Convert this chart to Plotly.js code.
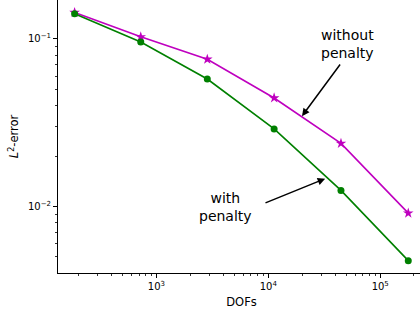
<!DOCTYPE html>
<html>
<head>
<meta charset="utf-8">
<script src="https://cdn.plot.ly/plotly-3.0.1.min.js"></script>
<style>
html, body { margin: 0; padding: 0; overflow: hidden; width: 420px; height: 315px; background: #fff; }
#chart { width: 425px; height: 315px; }
</style>
</head>
<body>
<div id="chart"></div>
<script>
// Data
const dofs = [186, 725, 2850, 11270, 44600, 178000];
const errWithout = [0.1437, 0.1028, 0.0756, 0.0444, 0.0238, 0.00912];
const errWith = [0.1411, 0.0959, 0.0576, 0.0290, 0.01247, 0.00475];

const xTickVals = [1000, 10000, 100000];
const xTickText = ['10<sup>3</sup>', '10<sup>4</sup>', '10<sup>5</sup>'];
const yTickVals = [0.01, 0.1];
const yTickText = ['10<sup>−2</sup>', '10<sup>−1</sup>'];

function minorTicks(lo, hi) {
  const out = [];
  for (let e = lo; e <= hi; e++) {
    for (let m = 2; m <= 9; m++) out.push(m * Math.pow(10, e));
  }
  return out;
}

const L = Math.log10;
const font = 'DejaVu Sans, Liberation Sans, sans-serif';

const traces = [
  {
    x: dofs, y: errWithout, type: 'scatter', mode: 'lines+markers',
    line: { color: '#bf00bf', width: 1.6 },
    marker: { symbol: 'star', size: 8, color: '#bf00bf' },
    name: 'without penalty', showlegend: false
  },
  {
    x: dofs, y: errWith, type: 'scatter', mode: 'lines+markers',
    line: { color: '#008000', width: 1.6 },
    marker: { symbol: 'circle', size: 7, color: '#008000' },
    name: 'with penalty', showlegend: false
  }
];

const layout = {
  width: 425, height: 315,
  margin: { l: 58, r: 0, t: 0, b: 42, pad: 0 },
  paper_bgcolor: '#fff', plot_bgcolor: '#fff',
  font: { family: font, size: 10, color: '#000' },
  xaxis: {
    type: 'log', range: [2.121, 5.400],
    showline: true, mirror: true, linecolor: '#000', linewidth: 1,
    showgrid: false, zeroline: false,
    tickmode: 'array', tickvals: xTickVals, ticktext: xTickText,
    ticks: 'outside', ticklen: 4, tickwidth: 1, tickcolor: '#000',
    minor: { tickmode: 'array', tickvals: minorTicks(2, 5), ticks: 'outside', ticklen: 2, tickwidth: 0.8, tickcolor: '#000', showgrid: false },
    tickfont: { family: font, size: 10 },
    title: { text: 'DOFs', font: { family: font, size: 11.5 }, standoff: 6 }
  },
  yaxis: {
    type: 'log', range: [-2.397, -0.768],
    showline: true, mirror: true, linecolor: '#000', linewidth: 1,
    showgrid: false, zeroline: false,
    tickmode: 'array', tickvals: yTickVals, ticktext: yTickText,
    ticks: 'outside', ticklen: 4, tickwidth: 1, tickcolor: '#000',
    minor: { tickmode: 'array', tickvals: minorTicks(-3, -1), ticks: 'outside', ticklen: 2, tickwidth: 0.8, tickcolor: '#000', showgrid: false },
    tickfont: { family: font, size: 10 },
    title: { text: '<i>L</i><sup>2</sup>-error', font: { family: font, size: 11.5 }, standoff: 6 }
  },
  annotations: [
    { x: L(50700), y: L(0.0933), xref: 'x', yref: 'y', text: 'without<br>penalty', showarrow: false,
      font: { family: font, size: 14, color: '#000' }, xanchor: 'center', yanchor: 'middle' },
    { x: L(20000), y: L(0.0346), ax: L(44800), ay: L(0.0718), axref: 'x', ayref: 'y', xref: 'x', yref: 'y',
      text: '', showarrow: true, arrowhead: 2, arrowsize: 1, arrowwidth: 1.5, arrowcolor: '#000', standoff: 0, startstandoff: 0 },
    { x: L(4180), y: L(0.00986), xref: 'x', yref: 'y', text: 'with<br>penalty', showarrow: false,
      font: { family: font, size: 14, color: '#000' }, xanchor: 'center', yanchor: 'middle' },
    { x: L(32200), y: L(0.01466), ax: L(9150), ay: L(0.01042), axref: 'x', ayref: 'y', xref: 'x', yref: 'y',
      text: '', showarrow: true, arrowhead: 2, arrowsize: 1, arrowwidth: 1.5, arrowcolor: '#000', standoff: 0, startstandoff: 0 }
  ]
};

Plotly.newPlot('chart', traces, layout, { displayModeBar: false, staticPlot: true });
</script>
</body>
</html>
